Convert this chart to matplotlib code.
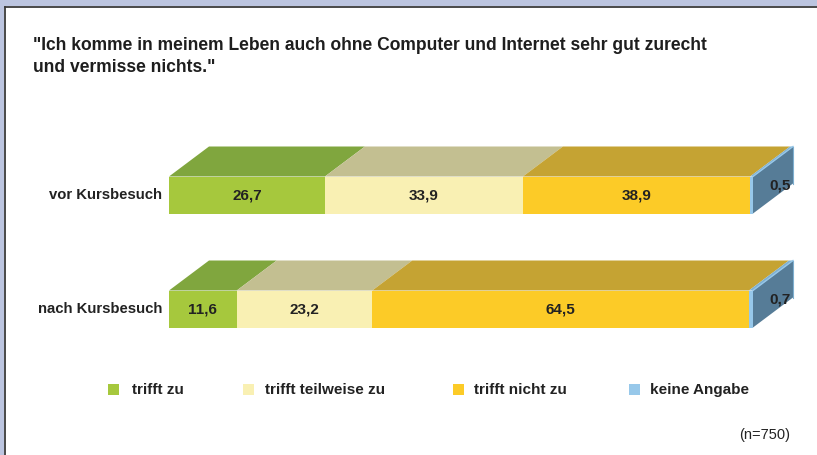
import matplotlib.pyplot as plt
from matplotlib.patches import Polygon, Rectangle

# data
groups = ["vor Kursbesuch", "nach Kursbesuch"]
answers = ["trifft zu", "trifft teilweise zu", "trifft nicht zu", "keine Angabe"]
vor = [26.7, 33.9, 38.9, 0.5]
nach = [11.6, 23.2, 64.5, 0.7]
values = [vor, nach]

front_cols = ["#a6c83d", "#f9f0b3", "#fccb27", "#97c8ea"]
top_cols = ["#80a63e", "#c3bf91", "#c5a333", "#7fb0d0"]
side_col = "#567c97"

W, H = 817, 455
fig = plt.figure(figsize=(W / 100, H / 100), dpi=100)
fig.patch.set_facecolor("white")

def fx(x):
    return x / W

def fy(y):
    return 1 - y / H

# frame (lavender band top/left with dark line)
fig.add_artist(Rectangle((0, fy(6)), 1, 6 / H, transform=fig.transFigure,
                         facecolor="#bcc5e0", edgecolor="none"))
fig.add_artist(Rectangle((0, 0), fx(4), 1, transform=fig.transFigure,
                         facecolor="#bcc5e0", edgecolor="none"))
fig.add_artist(plt.Line2D([fx(4.5), 1], [fy(6.5), fy(6.5)], transform=fig.transFigure,
                          color="#3a3a3a", lw=1.3))
fig.add_artist(plt.Line2D([fx(4.5), fx(4.5)], [0, fy(6.5)], transform=fig.transFigure,
                          color="#3a3a3a", lw=1.3))

font = "Liberation Sans"
ink = "#222222"

# title
fig.text(fx(33), fy(45), '"Ich komme in meinem Leben auch ohne Computer und Internet sehr gut zurecht',
         fontsize=12.65, fontweight="bold", family=font, color="#1e1e1e", va="center")
fig.text(fx(33), fy(67), 'und vermisse nichts."',
         fontsize=12.65, fontweight="bold", family=font, color="#1e1e1e", va="center")

# bar axes: 0..100 maps to px 169..753, categories centered at px 195 and 309
ax_top, ax_bot = 120, 360
ax = fig.add_axes([fx(169), fy(ax_bot), (753 - 169) / W, (ax_bot - ax_top) / H])
unit = 309 - 195
ax.set_xlim(0, 100)
ax.set_ylim((ax_bot - 195) / unit, (ax_top - 195) / unit)
ax.axis("off")

bh = 37 / unit
dx = 40 / 584 * 100
dy = 30 / unit

for i, row in enumerate(values):
    top = i - bh / 2
    bot = i + bh / 2
    left = 0
    for j, v in enumerate(row):
        right = left + v
        ax.add_patch(Rectangle((left, top), v, bh, facecolor=front_cols[j], edgecolor="none",
                               clip_on=False))
        ax.add_patch(Polygon([(left, top), (right, top), (right + dx, top - dy), (left + dx, top - dy)],
                             facecolor=top_cols[j], edgecolor="none", clip_on=False))
        if j < 3:
            ax.text(left + v / 2, i, f"{v:.1f}".replace(".", ","), ha="center", va="center",
                    fontsize=11, fontweight="bold", color=ink, family=font)
        left = right
    ax.add_patch(Polygon([(100, top), (100, bot), (100 + dx, bot - dy), (100 + dx, top - dy)],
                         facecolor=side_col, edgecolor="none", clip_on=False))
    ax.plot([100, 100 + dx], [top, top - dy], color="#97c8ea", lw=1, clip_on=False)
    ax.plot([100 + dx, 100 + dx], [top - dy, bot - dy], color="#7fb0d0", lw=0.8, clip_on=False)
    ax.text(100 + dx * 0.68, i - dy * 0.3, f"{row[3]:.1f}".replace(".", ","), ha="center",
            va="center", fontsize=11, fontweight="bold", color=ink, family=font)
    ax.text(-7 / 584 * 100, i, groups[i], ha="right", va="center", fontsize=10.7,
            fontweight="bold", color=ink, family=font)

# legend
sq_x = [108, 243, 453, 629]
txt_x = [132, 265, 474, 650]
for j, name in enumerate(answers):
    fig.add_artist(Rectangle((fx(sq_x[j]), fy(395)), 11 / W, 11 / H, transform=fig.transFigure,
                             facecolor=front_cols[j], edgecolor="none"))
    fig.text(fx(txt_x[j]), fy(390), name, fontsize=11, fontweight="bold", color=ink,
             family=font, va="center")

fig.text(fx(790), fy(435), "(n=750)", fontsize=10.5, color=ink, family=font,
         ha="right", va="center")

fig.savefig("out.png", dpi=100)
